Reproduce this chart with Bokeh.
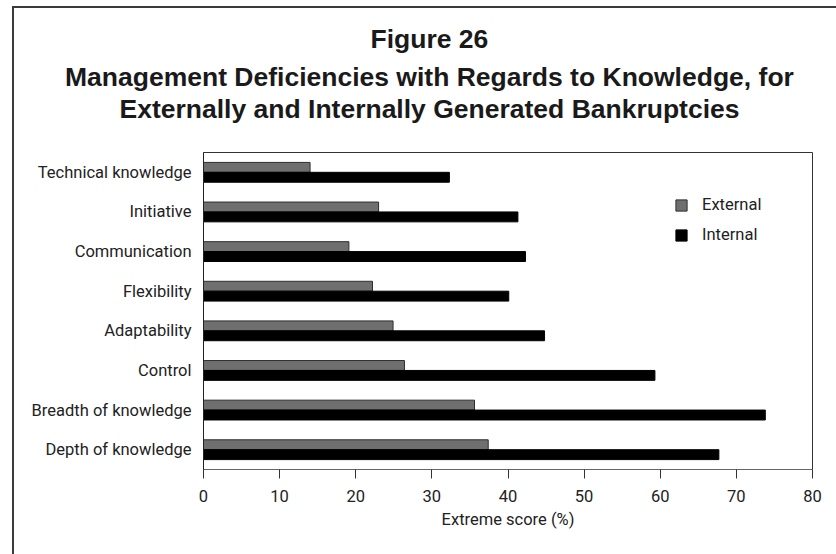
from bokeh.plotting import figure
from bokeh.models import (FactorRange, Range1d, Legend, LegendItem, Title,
                          ColumnDataSource, FixedTicker)
from bokeh.transform import dodge
from bokeh.embed import file_html
from bokeh.resources import INLINE

# ---- data ----
categories = ["Technical knowledge", "Initiative", "Communication", "Flexibility",
              "Adaptability", "Control", "Breadth of knowledge", "Depth of knowledge"]
external = [14.0, 23.0, 19.1, 22.2, 24.9, 26.4, 35.6, 37.4]
internal = [32.3, 41.3, 42.3, 40.1, 44.8, 59.3, 73.8, 67.7]
series_names = ["External", "Internal"]
x_ticks = [0, 10, 20, 30, 40, 50, 60, 70, 80]
title_lines = ["Figure 26",
               "Management Deficiencies with Regards to Knowledge, for",
               "Externally and Internally Generated Bankruptcies"]
x_label = "Extreme score (%)"

LABEL_FONT = "Roboto"
LABEL_SIZE = "16.5px"
BOLD = "'Liberation Sans', Arial, sans-serif"

src = ColumnDataSource(dict(cat=categories, external=external, internal=internal))

p = figure(y_range=FactorRange(factors=list(reversed(categories))),
           x_range=Range1d(0, 80),
           frame_width=609, frame_height=317,
           min_border_left=189, min_border_right=24,
           min_border_top=144, min_border_bottom=85,
           output_backend="svg", toolbar_location=None)
p.styles = {"border-left": "2px solid #3a3a3a", "border-top": "2px solid #3a3a3a",
            "border-right": "none", "border-bottom": "none",
            "outline": "none", "box-shadow": "none",
            "margin-left": "12px", "margin-top": "6px"}

p.background_fill_color = "white"
p.border_fill_color = "white"
p.outline_line_color = "#333333"
p.outline_line_width = 1
p.xgrid.visible = False
p.ygrid.visible = False

r_ext = p.hbar(y=dodge("cat", 0.125, range=p.y_range), left=0, right="external",
               height=0.25, source=src, fill_color="#6f6f6f",
               line_color="#2e2e2e", line_width=1)
r_int = p.hbar(y=dodge("cat", -0.125, range=p.y_range), left=0, right="internal",
               height=0.25, source=src, fill_color="#000000",
               line_color="#000000", line_width=1)

xa = p.xaxis[0]
xa.ticker = FixedTicker(ticks=x_ticks)
xa.minor_tick_line_color = None
xa.major_tick_in = 0
xa.major_tick_out = 9
xa.major_tick_line_color = "#333333"
xa.axis_line_color = "#666666"
xa.major_label_standoff = 11
xa.major_label_text_font = LABEL_FONT
xa.major_label_text_font_size = LABEL_SIZE
xa.major_label_text_color = "#222222"
xa.axis_label = x_label
xa.axis_label_text_font = LABEL_FONT
xa.axis_label_text_font_size = LABEL_SIZE
xa.axis_label_text_font_style = "normal"
xa.axis_label_text_color = "#222222"
xa.axis_label_standoff = 5

ya = p.yaxis[0]
ya.major_tick_line_color = None
ya.minor_tick_line_color = None
ya.major_tick_out = 0
ya.major_tick_in = 0
ya.axis_line_color = "#222222"
ya.major_label_standoff = 12
ya.major_label_text_font = LABEL_FONT
ya.major_label_text_font_size = LABEL_SIZE
ya.major_label_text_color = "#222222"

legend = Legend(items=[LegendItem(label=series_names[0], renderers=[r_ext]),
                       LegendItem(label=series_names[1], renderers=[r_int])],
                location=(471, 225), padding=0, margin=0, spacing=11,
                glyph_width=14, glyph_height=14, label_standoff=14,
                label_height=14,
                border_line_color=None, background_fill_alpha=0,
                label_text_font=LABEL_FONT, label_text_font_size=LABEL_SIZE,
                label_text_color="#222222")
p.add_layout(legend)

# blank spacer panel between the frame and the title block
p.add_layout(Title(text=" ", standoff=26, text_font_size="1px"), "above")

# titles: first added sits nearest the frame
title_offsets = [167, -138.5, -84]
title_standoffs = [11, 0, 0]
for txt, off, so in reversed(list(zip(title_lines, title_offsets, title_standoffs))):
    p.add_layout(Title(text=txt, align="left", offset=off, standoff=so,
                       text_font=BOLD, text_font_style="bold",
                       text_font_size="26.5px", text_color="#1a1a1a"), "above")

open("out.html", "w").write(file_html(p, INLINE))
